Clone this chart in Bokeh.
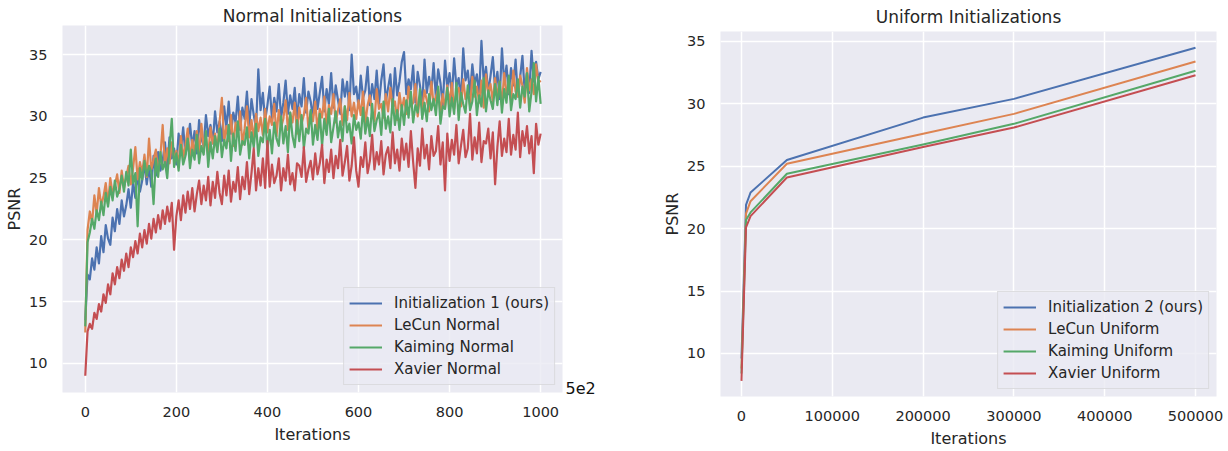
from bokeh.plotting import figure
from bokeh.layouts import row
from bokeh.models import Legend, LegendItem, LinearAxis, FixedTicker, Range1d, BasicTickFormatter
from bokeh.embed import file_html
from bokeh.resources import INLINE

# ---------------- data: Normal initializations (PSNR vs iterations) ----------------
normal_iters = list(range(0, 1001, 5))

init1_normal = [
    13.5, 17.2, 16.8, 18.5, 17.6, 19.4, 18.1, 20.3, 19.0, 21.2, 20.1, 19.6, 21.8, 20.7, 22.5, 21.3, 23.2, 21.9, 22.8, 24.1,
    22.6, 24.7, 23.4, 25.3, 23.9, 24.8, 26.2, 24.5, 25.9, 24.3, 26.8, 25.2, 27.1, 25.6, 26.4, 27.9, 25.8, 28.3, 26.6, 27.4,
    26.1, 28.6, 27.2, 29.1, 26.9, 28.0, 29.4, 27.5, 28.8, 27.0, 29.7, 28.2, 27.6, 30.1, 28.4, 29.3, 27.8, 30.4, 28.7, 29.6,
    28.0, 30.8, 29.1, 31.2, 28.6, 30.3, 29.5, 31.6, 28.9, 30.7, 29.8, 32.0, 29.2, 31.4, 30.1, 29.0, 33.8, 30.5, 31.9, 29.6,
    30.9, 32.4, 29.8, 31.5, 30.4, 32.6, 29.9, 31.1, 32.9, 30.2, 31.7, 30.6, 32.3, 29.7, 31.8, 30.8, 33.1, 30.3, 32.0, 31.2,
    29.9, 32.7, 30.6, 31.9, 33.2, 30.4, 32.2, 31.0, 33.5, 30.7, 32.5, 31.3, 30.2, 33.0, 31.6, 32.8, 30.5, 35.0, 31.8, 32.4,
    30.8, 33.3, 31.5, 32.1, 34.0, 30.9, 32.6, 31.4, 33.7, 31.0, 32.9, 34.2, 31.2, 32.3, 33.4, 30.6, 33.9, 31.7, 32.8, 34.4,
    35.2, 31.8, 33.0, 32.2, 34.1, 31.1, 33.6, 32.5, 30.9, 34.6, 31.9, 33.2, 32.0, 34.3, 31.5, 33.8, 32.7, 30.8, 34.5, 32.3,
    33.5, 31.6, 34.7, 32.4, 33.1, 31.3, 35.5, 32.9, 33.7, 31.8, 34.2, 32.6, 33.4, 31.7, 36.1, 32.8, 34.0, 31.9, 33.3, 34.8,
    32.2, 33.6, 31.4, 35.5, 32.7, 34.1, 31.8, 33.9, 32.5, 34.6, 31.6, 33.2, 34.9, 32.0, 33.5, 31.9, 35.3, 32.8, 34.4, 33.0,
    33.6,
]

lecun_normal = [
    12.5, 20.8, 22.3, 21.4, 23.6, 22.1, 24.2, 22.8, 23.5, 24.6, 22.9, 25.0, 23.7, 24.4, 25.3, 23.8, 25.6, 24.2, 25.1, 26.0,
    24.5, 25.8, 27.5, 24.9, 26.3, 25.4, 26.9, 25.1, 28.2, 25.7, 26.5, 27.3, 25.5, 26.8, 29.3, 26.0, 27.4, 26.2, 27.9, 26.6,
    27.2, 26.1, 28.4, 26.7, 27.6, 29.0, 26.4, 28.1, 27.0, 28.8, 26.9, 29.4, 27.5, 28.3, 26.8, 29.1, 27.8, 28.6, 27.3, 29.6,
    31.5, 27.9, 29.2, 28.0, 30.1, 27.6, 29.5, 28.4, 30.4, 27.7, 29.0, 30.8, 28.3, 29.7, 28.1, 30.2, 28.8, 29.9, 28.5, 30.6,
    28.7, 30.0, 29.3, 31.0, 28.4, 30.5, 29.1, 29.8, 31.3, 28.9, 30.3, 29.5, 31.1, 28.6, 30.7, 29.4, 30.1, 31.5, 29.0, 30.4,
    29.6, 31.2, 28.8, 30.6, 29.9, 31.6, 29.2, 30.9, 30.2, 31.8, 29.5, 30.5, 31.4, 29.3, 30.8, 29.7, 31.9, 30.0, 31.1, 29.8,
    31.3, 30.1, 32.0, 29.4, 30.9, 31.7, 30.3, 29.6, 32.2, 30.6, 31.0, 29.9, 31.8, 30.4, 32.3, 30.7, 31.2, 29.7, 31.9, 30.5,
    31.5, 30.2, 32.4, 30.8, 31.1, 32.6, 30.0, 31.7, 30.6, 32.1, 31.3, 30.4, 32.8, 30.9, 31.6, 32.2, 30.3, 31.8, 30.7, 32.5,
    31.0, 32.7, 30.6, 31.9, 32.3, 30.8, 33.0, 31.4, 32.0, 30.9, 33.2, 31.6, 32.4, 31.1, 32.9, 30.7, 33.4, 31.8, 32.6, 31.2,
    33.1, 31.5, 32.8, 30.9, 33.5, 31.9, 32.2, 31.3, 33.7, 32.0, 31.6, 33.3, 32.5, 31.1, 33.9, 32.1, 33.0, 31.8, 34.2, 32.7,
    32.9,
]

kaiming_normal = [
    13.0, 19.8, 20.6, 21.7, 20.9, 22.4, 21.6, 23.1, 22.0, 23.8, 22.7, 24.3, 23.2, 24.8, 23.5, 24.1, 25.2, 23.9, 25.5, 24.4,
    27.3, 24.6, 25.4, 21.1, 25.8, 24.9, 26.4, 25.2, 26.0, 25.5, 22.9, 26.6, 25.1, 27.1, 25.7, 26.3, 25.0, 27.5, 29.8, 25.9,
    27.0, 25.6, 27.7, 26.1, 26.8, 28.2, 25.8, 27.3, 26.5, 28.5, 26.2, 27.6, 26.9, 28.8, 25.9, 27.9, 26.6, 28.4, 27.1, 29.0,
    26.7, 28.1, 27.4, 29.3, 26.4, 28.6, 27.2, 29.6, 26.9, 28.0, 27.7, 29.1, 26.6, 28.7, 27.5, 29.4, 26.8, 28.3, 27.9, 29.8,
    27.3, 28.9, 27.0, 29.5, 28.2, 27.6, 30.0, 27.8, 29.2, 27.1, 30.3, 28.4, 27.5, 29.7, 28.0, 30.1, 27.4, 29.0, 28.6, 30.5,
    27.7, 29.3, 28.1, 30.2, 27.6, 29.8, 28.5, 30.6, 27.9, 29.1, 30.4, 28.3, 29.6, 28.0, 30.8, 28.7, 29.4, 27.8, 30.1, 28.9,
    29.5, 28.2, 30.7, 28.6, 29.9, 28.4, 31.0, 28.8, 29.7, 30.3, 28.5, 31.2, 29.0, 30.0, 28.7, 31.4, 29.3, 30.5, 28.9, 30.9,
    29.3, 31.3, 29.9, 32.0, 29.5, 30.9, 30.3, 32.2, 29.8, 31.1, 29.6, 31.8, 30.5, 31.4, 30.1, 32.4, 29.4, 30.8, 30.6, 32.3,
    30.0, 31.5, 30.2, 32.7, 29.7, 31.9, 31.0, 30.3, 32.5, 30.5, 31.2, 32.9, 30.1, 31.7, 30.8, 33.1, 30.4, 32.1, 31.3, 30.6,
    32.6, 30.9, 32.8, 30.3, 32.2, 31.1, 33.3, 30.5, 31.8, 31.4, 33.0, 30.7, 32.4, 31.6, 33.5, 30.4, 32.0, 34.3, 31.2, 33.2,
    31.0,
]

xavier_normal = [
    9.0, 12.6, 13.2, 12.8, 14.1, 13.6, 14.8, 14.2, 15.6, 14.9, 16.4, 15.6, 17.3, 16.4, 17.8, 16.9, 18.4, 17.5, 18.9, 17.8,
    19.4, 18.6, 19.9, 18.9, 20.5, 19.4, 20.8, 19.7, 21.3, 20.1, 21.7, 20.6, 22.0, 20.9, 22.4, 21.3, 22.7, 21.5, 23.0, 19.2,
    21.9, 23.2, 21.6, 23.6, 22.2, 23.9, 22.5, 24.2, 22.3, 23.7, 24.8, 22.9, 24.4, 23.2, 25.1, 22.8, 24.7, 23.4, 25.5, 23.8,
    22.9, 25.2, 23.6, 25.6, 23.1, 24.7, 23.9, 25.9, 23.3, 25.1, 24.1, 26.3, 23.7, 25.4, 27.4, 24.0, 25.8, 24.4, 26.6, 24.2,
    28.0, 24.3, 26.1, 24.6, 25.2, 26.6, 24.0, 25.8, 24.8, 26.9, 24.5, 25.4, 24.0, 26.2, 26.0, 25.1, 27.5, 24.7, 25.7, 26.4,
    24.9, 27.0, 25.3, 26.2, 27.7, 24.6, 26.5, 25.5, 27.3, 25.0, 26.8, 25.8, 28.1, 25.2, 26.3, 27.6, 24.8, 26.0, 28.3, 25.6,
    24.3, 26.7, 25.9, 27.9, 25.4, 26.4, 28.5, 25.7, 27.1, 26.1, 28.0, 25.3, 26.9, 27.5, 25.8, 28.7, 26.2, 27.3, 25.6, 28.2,
    26.5, 27.8, 25.9, 28.8, 26.3, 24.2, 27.4, 26.0, 29.0, 26.6, 27.7, 25.7, 28.4, 26.8, 27.2, 29.2, 26.1, 27.9, 24.0, 28.6,
    26.4, 28.1, 26.9, 29.3, 26.2, 27.6, 28.9, 26.7, 27.4, 30.2, 26.5, 28.3, 27.0, 29.5, 26.3, 28.0, 27.8, 29.0, 26.6, 28.7,
    24.5, 27.5, 29.6, 26.8, 28.2, 27.1, 29.8, 26.9, 28.5, 27.3, 30.3, 26.7, 28.8, 27.6, 29.2, 27.0, 28.4, 25.4, 29.4, 27.7,
    28.6,
]

normal_labels = ["Initialization 1 (ours)", "LeCun Normal", "Kaiming Normal", "Xavier Normal"]

# ---------------- data: Uniform initializations ----------------
uniform_iters = [0, 5000, 10000, 50000, 200000, 300000, 500000]
init2_uniform = [9.6, 21.9, 22.9, 25.5, 28.9, 30.4, 34.5]
lecun_uniform = [8.8, 21.2, 22.2, 25.2, 27.6, 29.2, 33.4]
kaiming_uniform = [8.4, 20.7, 21.3, 24.4, 26.75, 28.4, 32.65]
xavier_uniform = [7.8, 20.1, 21.0, 24.1, 26.55, 28.1, 32.3]

uniform_labels = ["Initialization 2 (ours)", "LeCun Uniform", "Kaiming Uniform", "Xavier Uniform"]

normal_ticks_x = [0, 200, 400, 600, 800, 1000]
uniform_ticks_x = [0, 100000, 200000, 300000, 400000, 500000]
psnr_ticks = [10, 15, 20, 25, 30, 35]
offset_tick = 8          # where the "5e2" offset text sits on the left chart
offset_text = "5e2"

COLORS = ["#4c72b0", "#dd8452", "#55a868", "#c44e52"]
FONT = "DejaVu Sans"
TEXT = "#262626"


def make_fig(width, xr, yr, bl, br, bt, bb, title, xticks, title_standoff, title_valign):
    p = figure(width=width, height=451, x_range=Range1d(*xr), y_range=Range1d(*yr),
               output_backend="svg", toolbar_location=None,
               min_border_left=bl, min_border_right=br, min_border_top=bt, min_border_bottom=bb)
    p.frame_align = False
    p.title.text = title
    p.title.align = "center"
    p.title.vertical_align = title_valign
    p.title.text_font = FONT
    p.title.text_font_size = "17px"
    p.title.text_font_style = "normal"
    p.title.text_color = TEXT
    p.title.standoff = title_standoff
    p.title.offset = 0
    p.background_fill_color = "#eaeaf2"
    p.border_fill_color = "white"
    p.outline_line_color = None
    p.grid.grid_line_color = "white"
    p.grid.grid_line_width = 1.5
    p.xaxis.ticker = FixedTicker(ticks=xticks)
    p.yaxis.ticker = FixedTicker(ticks=psnr_ticks)
    p.xaxis.formatter = BasicTickFormatter(use_scientific=False)
    for ax in p.xaxis + p.yaxis:
        ax.axis_line_color = None
        ax.major_tick_line_color = None
        ax.minor_tick_line_color = None
        ax.major_tick_out = 0
        ax.major_tick_in = 0
        ax.minor_tick_out = 0
        ax.major_label_text_font = FONT
        ax.major_label_text_font_size = "14.5px"
        ax.major_label_text_color = TEXT
        ax.axis_label_text_font = FONT
        ax.axis_label_text_font_size = "16px"
        ax.axis_label_text_font_style = "normal"
        ax.axis_label_text_color = TEXT
    p.xaxis.axis_label = "Iterations"
    p.yaxis.axis_label = "PSNR"
    p.xaxis.major_label_standoff = 14
    p.xaxis.axis_label_standoff = 5
    p.yaxis.major_label_standoff = 15
    p.yaxis.axis_label_standoff = 2
    return p


def add_legend(p, renderers, labels):
    legend = Legend(items=[LegendItem(label=l, renderers=[r]) for l, r in zip(labels, renderers)],
                    location="bottom_right")
    legend.background_fill_color = "#eaeaf2"
    legend.background_fill_alpha = 0.8
    legend.border_line_color = "#cccccc"
    legend.border_line_width = 1
    legend.label_text_font = FONT
    legend.label_text_font_size = "15px"
    legend.label_text_color = TEXT
    legend.glyph_width = 33
    legend.glyph_height = 20
    legend.label_height = 20
    legend.label_standoff = 12
    legend.spacing = 2
    legend.padding = 5
    legend.margin = 7
    p.add_layout(legend, "center")


# left: Normal
p1 = make_fig(614, (-50, 1048), (7.65, 37.35), 62, 52, 25, 59, "Normal Initializations",
              normal_ticks_x, -4, "top")
r1 = []
for ys, c in zip([init1_normal, lecun_normal, kaiming_normal, xavier_normal], COLORS):
    r1.append(p1.line(normal_iters, ys, line_color=c, line_width=2.2, line_join="round"))
add_legend(p1, r1, normal_labels)

# offset text "5e2" to the right of the x axis end (as a tick label on a bare right axis)
off_axis = LinearAxis(ticker=FixedTicker(ticks=[offset_tick]),
                      major_label_overrides={offset_tick: offset_text})
off_axis.axis_line_color = None
off_axis.major_tick_line_color = None
off_axis.minor_tick_line_color = None
off_axis.major_tick_out = 0
off_axis.major_tick_in = 0
off_axis.minor_tick_out = 0
off_axis.major_label_standoff = 3
off_axis.major_label_text_font = FONT
off_axis.major_label_text_font_size = "16px"
off_axis.major_label_text_color = "#111111"
p1.add_layout(off_axis, "right")

# right: Uniform
p2 = make_fig(614, (-23100, 523100), (6.55, 35.8), 106, 12, 31, 55, "Uniform Initializations",
              uniform_ticks_x, 9, "bottom")
r2 = []
for ys, c in zip([init2_uniform, lecun_uniform, kaiming_uniform, xavier_uniform], COLORS):
    r2.append(p2.line(uniform_iters, ys, line_color=c, line_width=2, line_join="round"))
add_legend(p2, r2, uniform_labels)

layout = row(p1, p2)
open("out.html", "w").write(file_html(layout, INLINE))
